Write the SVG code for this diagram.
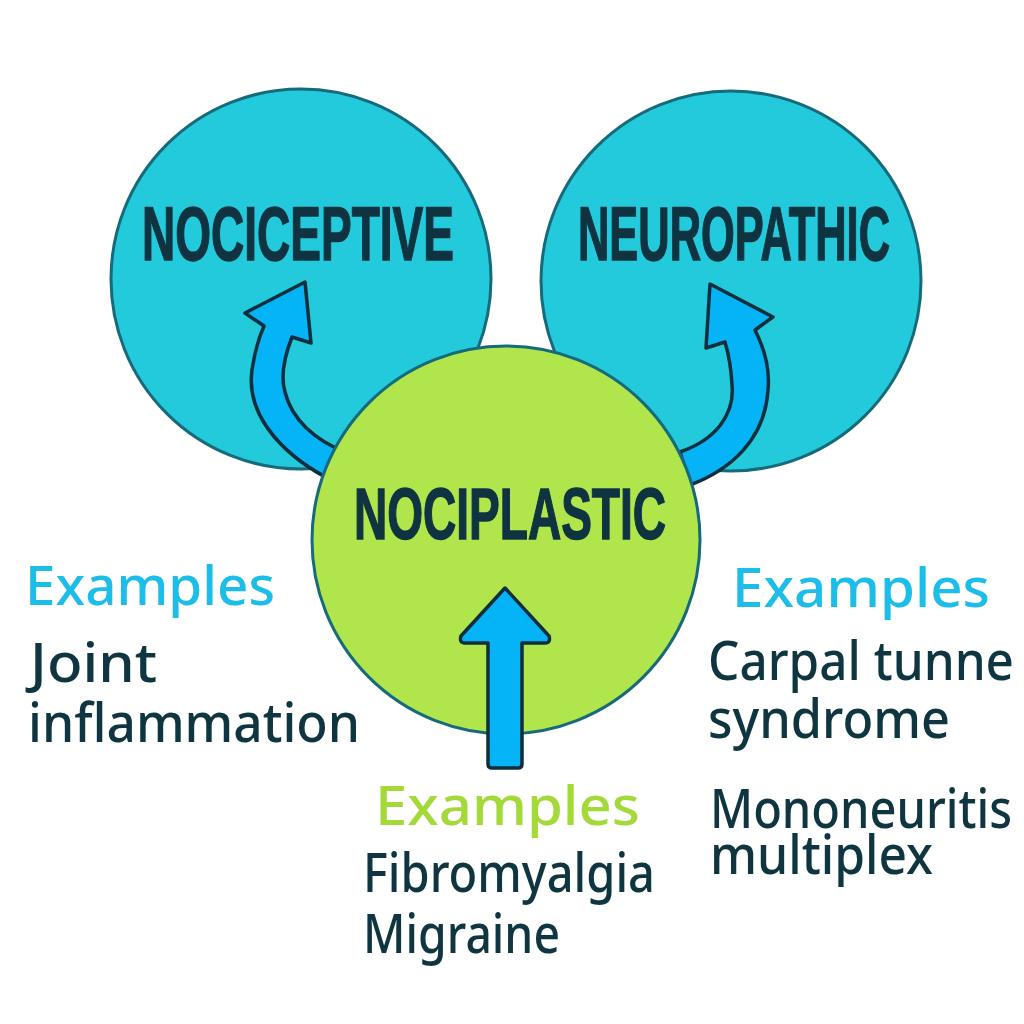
<svg xmlns="http://www.w3.org/2000/svg" width="1024" height="1024" viewBox="0 0 1024 1024">
<style>
.bg{fill:#ffffff}
.cyan{fill:#22cadb;stroke:#176a7a;stroke-width:3}
.green{fill:#b0e54c;stroke:#176a7a;stroke-width:3}
.arrow{fill:#05b3f7;stroke:#0d2f3d;stroke-width:3.5;stroke-linejoin:round}
.title{font-family:"Liberation Sans",Arial,sans-serif;font-weight:bold;fill:#0f3340;stroke:#0f3340;stroke-width:1.5}
.ex{font-family:"Noto Sans","Open Sans",sans-serif;font-weight:500;font-size:55px}
.item{font-family:"Noto Sans","Open Sans",sans-serif;font-weight:500;font-size:55px;fill:#0f3540}
</style>
<rect class="bg" x="0" y="0" width="1024" height="1024"/>
<g id="nociceptive">
<circle class="cyan" cx="301" cy="279" r="190"/>
<text class="title" x="142" y="260" font-size="76" textLength="312" lengthAdjust="spacingAndGlyphs">NOCICEPTIVE</text>
</g>
<g id="neuropathic">
<circle class="cyan" cx="731" cy="281" r="190"/>
<text class="title" x="578" y="260" font-size="76" textLength="312" lengthAdjust="spacingAndGlyphs">NEUROPATHIC</text>
</g>
<g id="connectors-curved">
<path class="arrow" d="M 335 482 C 290 460, 245 420, 252 370 C 255 350, 260 335, 264 326 L 245 313 L 305 282 L 311 343 L 292 337 C 285 355, 280 375, 285 392 C 292 420, 315 440, 345 452 Z"/>
<path class="arrow" d="M 680 452 C 715 440, 735 415, 732 385 C 731 365, 728 352, 725 342 L 706 348 L 710 284 L 773 317 L 755 330 C 765 350, 770 370, 768 390 C 765 440, 730 470, 690 485 Z"/>
</g>
<g id="nociplastic">
<circle class="green" cx="506" cy="540" r="194"/>
<text class="title" x="354" y="539" font-size="73" textLength="312" lengthAdjust="spacingAndGlyphs">NOCIPLASTIC</text>
</g>
<g id="connectors">
<path class="arrow" d="M 505 588 L 549 636 Q 551 643 545 643 L 522 643 L 522 764 Q 522 768 518 768 L 492 768 Q 488 768 488 764 L 488 643 L 465 643 Q 459 643 461 636 Z"/>
</g>
<g id="examples-nociceptive">
<text class="ex" x="25" y="605" fill="#1cbde8" textLength="250" lengthAdjust="spacingAndGlyphs">Examples</text>
<text class="item" x="30" y="682" textLength="127" lengthAdjust="spacingAndGlyphs">Joint</text>
<text class="item" x="28" y="742" textLength="332" lengthAdjust="spacingAndGlyphs">inflammation</text>
</g>
<g id="examples-neuropathic">
<text class="ex" x="732" y="607" fill="#1cbde8" textLength="258" lengthAdjust="spacingAndGlyphs">Examples</text>
<text class="item" x="708" y="680" textLength="306" lengthAdjust="spacingAndGlyphs">Carpal tunne</text>
<text class="item" x="708" y="738" textLength="242" lengthAdjust="spacingAndGlyphs">syndrome</text>
<text class="item" x="710" y="828" textLength="302" lengthAdjust="spacingAndGlyphs">Mononeuritis</text>
<text class="item" x="710" y="874" textLength="223" lengthAdjust="spacingAndGlyphs">multiplex</text>
</g>
<g id="examples-nociplastic">
<text class="ex" x="375" y="825" fill="#a4d93a" textLength="265" lengthAdjust="spacingAndGlyphs">Examples</text>
<text class="item" x="363" y="892" textLength="292" lengthAdjust="spacingAndGlyphs">Fibromyalgia</text>
<text class="item" x="363" y="953" textLength="197" lengthAdjust="spacingAndGlyphs">Migraine</text>
</g>
</svg>
